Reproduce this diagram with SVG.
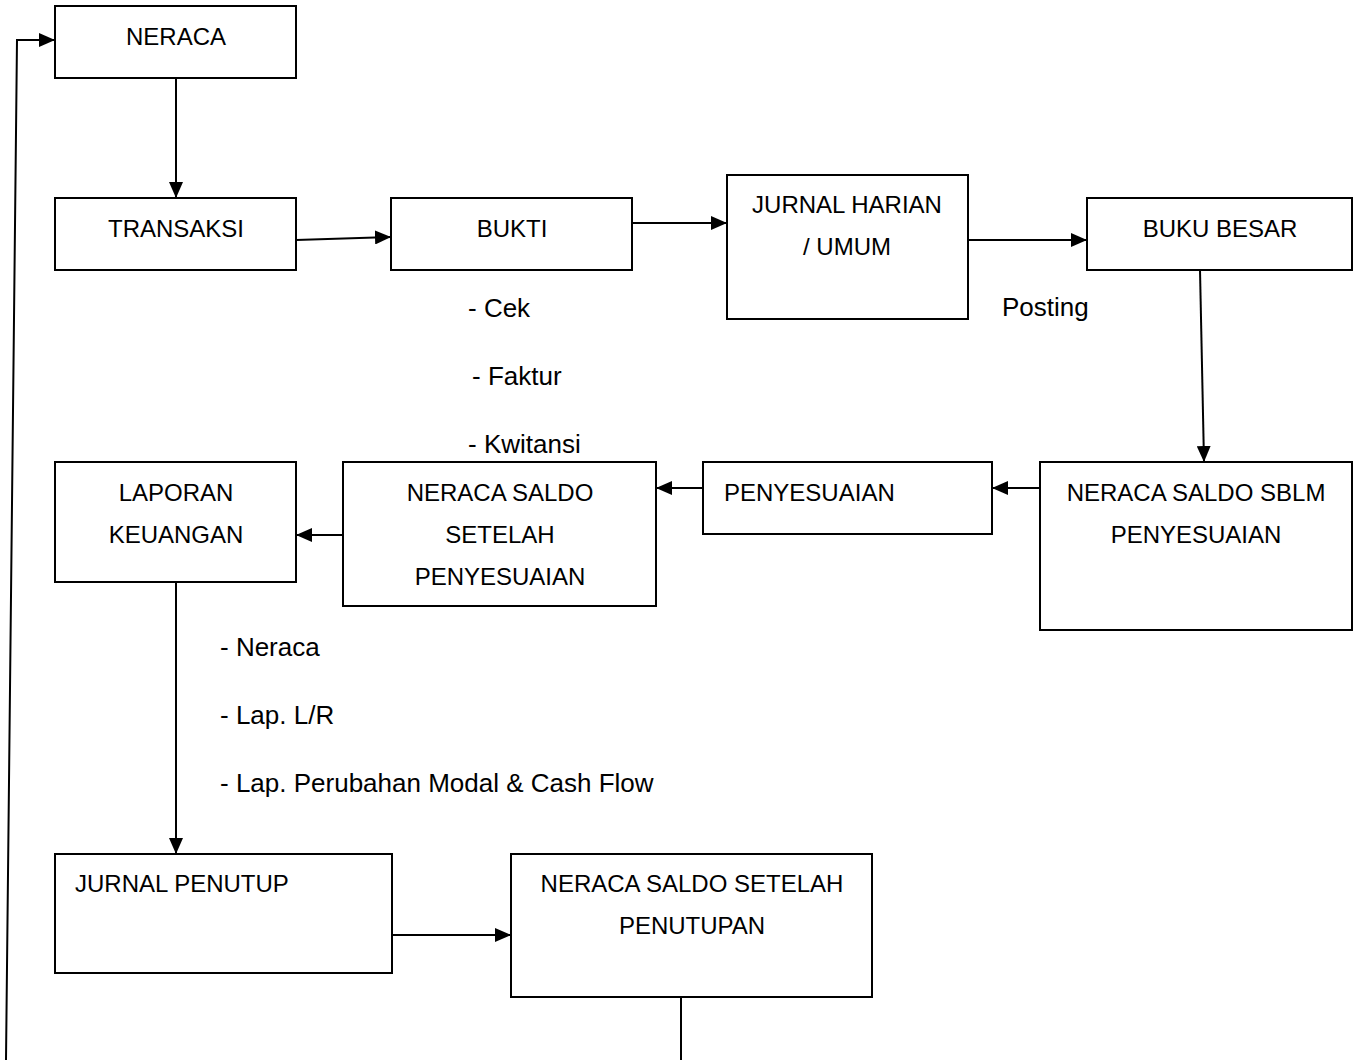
<svg xmlns="http://www.w3.org/2000/svg" width="1353" height="1060" viewBox="0 0 1353 1060">
<style>
rect{fill:#fff;stroke:#000;stroke-width:2}
text{font-family:"Liberation Sans",Arial,sans-serif;font-size:24px;fill:#000}
.c{text-anchor:middle}
.lb{font-size:26px}
.ln{fill:none;stroke:#000;stroke-width:2}
</style>
<defs>
<marker id="ahb" markerWidth="16" markerHeight="14" refX="16" refY="7" orient="auto" markerUnits="userSpaceOnUse" viewBox="0 0 16 14"><path d="M0,0 L16,7 L0,14 z" fill="#000"/></marker>
</defs>
<rect x="0" y="0" width="1353" height="1060" style="stroke:none"/>
<g id="connectors">
<polyline class="ln" points="6,1060 17,40 55,40" marker-end="url(#ahb)"/>
<line class="ln" x1="176" y1="78" x2="176" y2="198" marker-end="url(#ahb)"/>
<line class="ln" x1="296" y1="240" x2="391" y2="237" marker-end="url(#ahb)"/>
<line class="ln" x1="632" y1="223" x2="727" y2="223" marker-end="url(#ahb)"/>
<line class="ln" x1="968" y1="240" x2="1087" y2="240" marker-end="url(#ahb)"/>
<line class="ln" x1="1200" y1="270" x2="1204" y2="462" marker-end="url(#ahb)"/>
<line class="ln" x1="1040" y1="488" x2="992" y2="488" marker-end="url(#ahb)"/>
<line class="ln" x1="703" y1="488" x2="656" y2="488" marker-end="url(#ahb)"/>
<line class="ln" x1="343" y1="535" x2="296" y2="535" marker-end="url(#ahb)"/>
<line class="ln" x1="176" y1="582" x2="176" y2="854" marker-end="url(#ahb)"/>
<line class="ln" x1="392" y1="935" x2="511" y2="935" marker-end="url(#ahb)"/>
<line class="ln" x1="681" y1="997" x2="681" y2="1060"/>
</g>
<g id="neraca"><rect x="55" y="6" width="241" height="72"/><text class="c" x="176" y="45">NERACA</text></g>
<g id="transaksi"><rect x="55" y="198" width="241" height="72"/><text class="c" x="176" y="237">TRANSAKSI</text></g>
<g id="bukti"><rect x="391" y="198" width="241" height="72"/><text class="c" x="512" y="237">BUKTI</text></g>
<g id="jurnal-harian"><rect x="727" y="175" width="241" height="144"/><text class="c" x="847" y="213">JURNAL HARIAN</text><text class="c" x="847" y="255">/ UMUM</text></g>
<g id="buku-besar"><rect x="1087" y="198" width="265" height="72"/><text class="c" x="1220" y="237">BUKU BESAR</text></g>
<g id="neraca-saldo-sblm"><rect x="1040" y="462" width="312" height="168"/><text class="c" x="1196" y="501">NERACA SALDO SBLM</text><text class="c" x="1196" y="543">PENYESUAIAN</text></g>
<g id="penyesuaian"><rect x="703" y="462" width="289" height="72"/><text x="724" y="501">PENYESUAIAN</text></g>
<g id="neraca-saldo-setelah"><rect x="343" y="462" width="313" height="144"/><text class="c" x="500" y="501">NERACA SALDO</text><text class="c" x="500" y="543">SETELAH</text><text class="c" x="500" y="585">PENYESUAIAN</text></g>
<g id="laporan-keuangan"><rect x="55" y="462" width="241" height="120"/><text class="c" x="176" y="501">LAPORAN</text><text class="c" x="176" y="543">KEUANGAN</text></g>
<g id="jurnal-penutup"><rect x="55" y="854" width="337" height="119"/><text x="75" y="892">JURNAL PENUTUP</text></g>
<g id="neraca-saldo-penutupan"><rect x="511" y="854" width="361" height="143"/><text class="c" x="692" y="892">NERACA SALDO SETELAH</text><text class="c" x="692" y="934">PENUTUPAN</text></g>
<g id="labels">
<text class="lb" x="1002" y="316">Posting</text>
<text class="lb" x="468" y="317">- Cek</text>
<text class="lb" x="472" y="385">- Faktur</text>
<text class="lb" x="468" y="453">- Kwitansi</text>
<text class="lb" x="220" y="656">- Neraca</text>
<text class="lb" x="220" y="724">- Lap. L/R</text>
<text class="lb" x="220" y="792">- Lap. Perubahan Modal &amp; Cash Flow</text>
</g>
</svg>
